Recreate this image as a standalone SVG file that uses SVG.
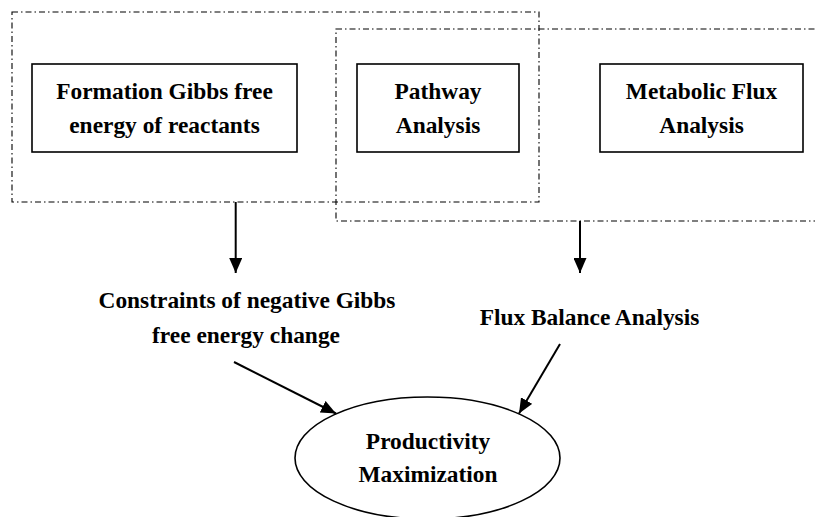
<svg xmlns="http://www.w3.org/2000/svg" width="815" height="517" viewBox="0 0 815 517">
  <style>
    .group-frame { fill: none; stroke: #000; stroke-width: 1.1; stroke-dasharray: 6 3 1.5 3; }
    .box { fill: #fff; stroke: #000; stroke-width: 1.6; }
    .label { font-family: "Liberation Serif", "Times New Roman", serif; font-weight: bold; font-size: 23.4px; fill: #000; text-anchor: middle; }
    .edge { stroke: #000; stroke-width: 2; fill: none; marker-end: url(#arrow); }
  </style>
  <defs>
    <marker id="arrow" markerUnits="userSpaceOnUse" markerWidth="15" markerHeight="13" refX="15" refY="6.5" orient="auto">
      <path d="M0,0 L15,6.5 L0,13 Z" fill="#000"/>
    </marker>
  </defs>

  <rect width="815" height="517" fill="#fff"/>

  <!-- dash-dot grouping frames -->
  <g id="frames">
    <rect class="group-frame" x="12" y="12" width="527" height="190"/>
    <rect class="group-frame" x="336" y="29" width="490" height="192"/>
  </g>

  <g id="formation">
    <rect class="box" x="32" y="64" width="265" height="88"/>
    <text class="label" x="164.5" y="99">Formation Gibbs free</text>
    <text class="label" x="164.5" y="133">energy of reactants</text>
  </g>

  <g id="pathway">
    <rect class="box" x="357" y="64" width="162" height="88"/>
    <text class="label" x="438" y="99">Pathway</text>
    <text class="label" x="438" y="133">Analysis</text>
  </g>

  <g id="mfa">
    <rect class="box" x="600" y="64" width="203" height="88"/>
    <text class="label" x="701.5" y="99">Metabolic Flux</text>
    <text class="label" x="701.5" y="133">Analysis</text>
  </g>

  <g id="constraints">
    <text class="label" x="247" y="308">Constraints of negative Gibbs</text>
    <text class="label" x="246" y="343">free energy change</text>
  </g>

  <g id="fba">
    <text class="label" x="589.5" y="325">Flux Balance Analysis</text>
  </g>

  <g id="productivity">
    <ellipse cx="427.5" cy="458" rx="132.5" ry="61" fill="#fff" stroke="#000" stroke-width="1.6"/>
    <text class="label" x="428" y="449">Productivity</text>
    <text class="label" x="428" y="482">Maximization</text>
  </g>

  <g id="connectors">
    <line class="edge" x1="235.7" y1="202" x2="235.7" y2="273"/>
    <line class="edge" x1="580" y1="221" x2="580" y2="273"/>
    <line class="edge" x1="234" y1="362" x2="336" y2="413.5"/>
    <line class="edge" x1="560" y1="344" x2="519" y2="413.5"/>
  </g>
</svg>
